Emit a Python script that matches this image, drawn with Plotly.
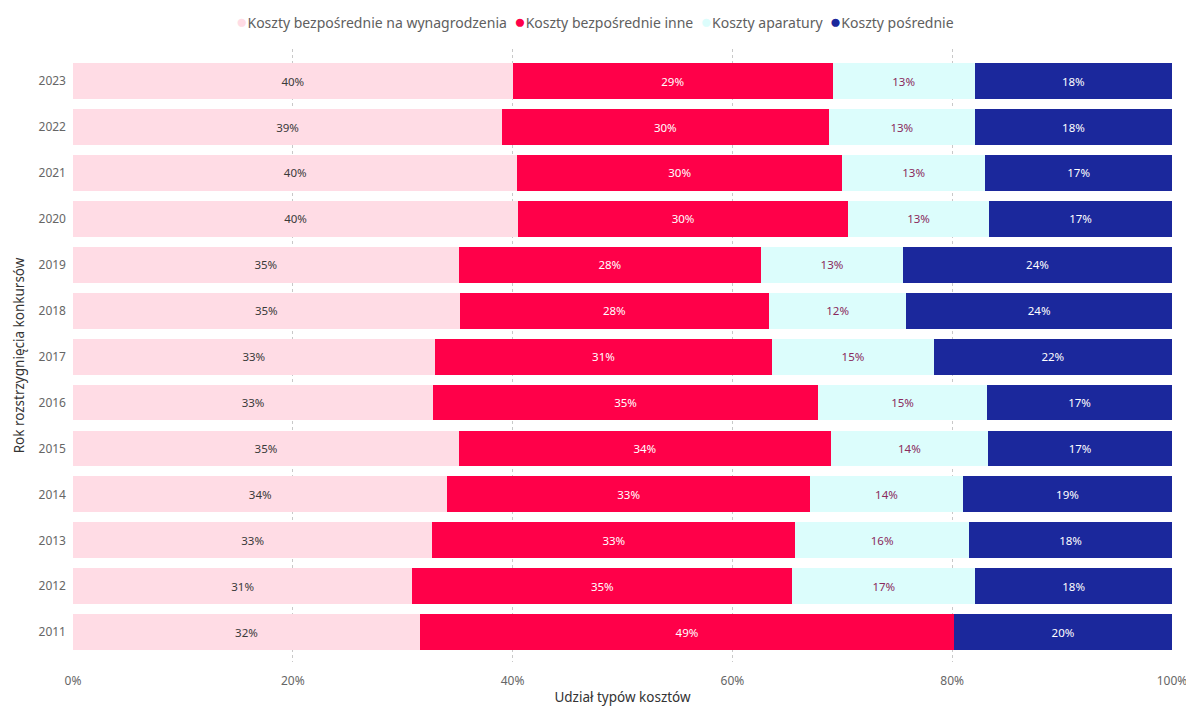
import plotly.graph_objects as go

# Years of competition resolution (bottom to top)
years = ["2011", "2012", "2013", "2014", "2015", "2016", "2017",
         "2018", "2019", "2020", "2021", "2022", "2023"]

# Share of each cost type, in percent
wynagrodzenia = [31.57, 30.87, 32.69, 34.06, 35.12, 32.76, 32.90,
                 35.18, 35.09, 40.49, 40.43, 39.04, 40.00]
inne = [48.59, 34.58, 33.03, 33.00, 33.82, 35.03, 30.73,
        28.15, 27.51, 30.03, 29.54, 29.71, 29.12]
aparatura = [None, 16.65, 15.81, 13.92, 14.32, 15.38, 14.68,
             12.49, 12.92, 12.83, 13.04, 13.32, 12.92]
posrednie = [19.84, 17.90, 18.47, 19.02, 16.74, 16.83, 21.69,
             24.18, 24.48, 16.65, 16.99, 17.93, 17.96]

x_ticks = [0, 20, 40, 60, 80, 100]

series = [
    ("Koszty bezpośrednie na wynagrodzenia", wynagrodzenia, "#FFDCE5", "#3a3a3a"),
    ("Koszty bezpośrednie inne", inne, "#FF0049", "#ffffff"),
    ("Koszty aparatury", aparatura, "#DCFDFC", "#8a2a5c"),
    ("Koszty pośrednie", posrednie, "#1B289C", "#ffffff"),
]

FONT = "Noto Sans"

fig = go.Figure()
for name, vals, color, txt in series:
    fig.add_trace(go.Bar(
        y=years, x=vals, orientation="h", name=name,
        marker=dict(color=color, line=dict(width=0)),
        texttemplate="%{x:.0f}%", textposition="inside",
        insidetextanchor="middle", textangle=0, constraintext="none",
        insidetextfont=dict(color=txt, size=11.5, family=FONT),
        showlegend=False, hoverinfo="skip",
    ))

# compact one-line legend with round colour markers
legend_items = [
    f"<span style='color:{color};font-size:19px'>●</span>{name}"
    for name, _, color, _ in series
]
fig.add_annotation(
    text="&nbsp;&nbsp;".join(legend_items),
    xref="paper", yref="paper", x=0.475, y=1.0, yshift=28,
    xanchor="center", yanchor="middle", showarrow=False,
    font=dict(size=14, color="#606060", family=FONT),
)

fig.update_layout(
    barmode="stack",
    bargap=0.22,
    width=1186, height=706,
    margin=dict(l=73, r=14, t=49, b=44),
    paper_bgcolor="white", plot_bgcolor="white",
    font=dict(family=FONT, color="#555555", size=12),
    showlegend=False,
    xaxis=dict(
        range=[0, 100.001], tickvals=x_ticks,
        ticktext=[f"{v}%" for v in x_ticks],
        ticklabeloverflow="allow", automargin=False,
        showgrid=True, gridcolor="#c8c8c8", griddash="dot", gridwidth=1,
        zeroline=False, showline=False, ticks="",
        tickfont=dict(size=12, color="#666666"),
        ticklabelstandoff=10,
        title=dict(text="Udział typów kosztów", font=dict(size=13.5, color="#333333"),
                   standoff=6),
    ),
    yaxis=dict(
        type="category", categoryorder="array", categoryarray=years,
        range=[-0.65, 12.7], showgrid=False, zeroline=False, ticks="",
        automargin=False,
        tickfont=dict(size=12, color="#666666"),
        ticklabelstandoff=6,
        title=dict(text="Rok rozstrzygnięcia konkursów",
                   font=dict(size=13.5, color="#333333"), standoff=10),
    ),
)

fig.write_html("out.html")
